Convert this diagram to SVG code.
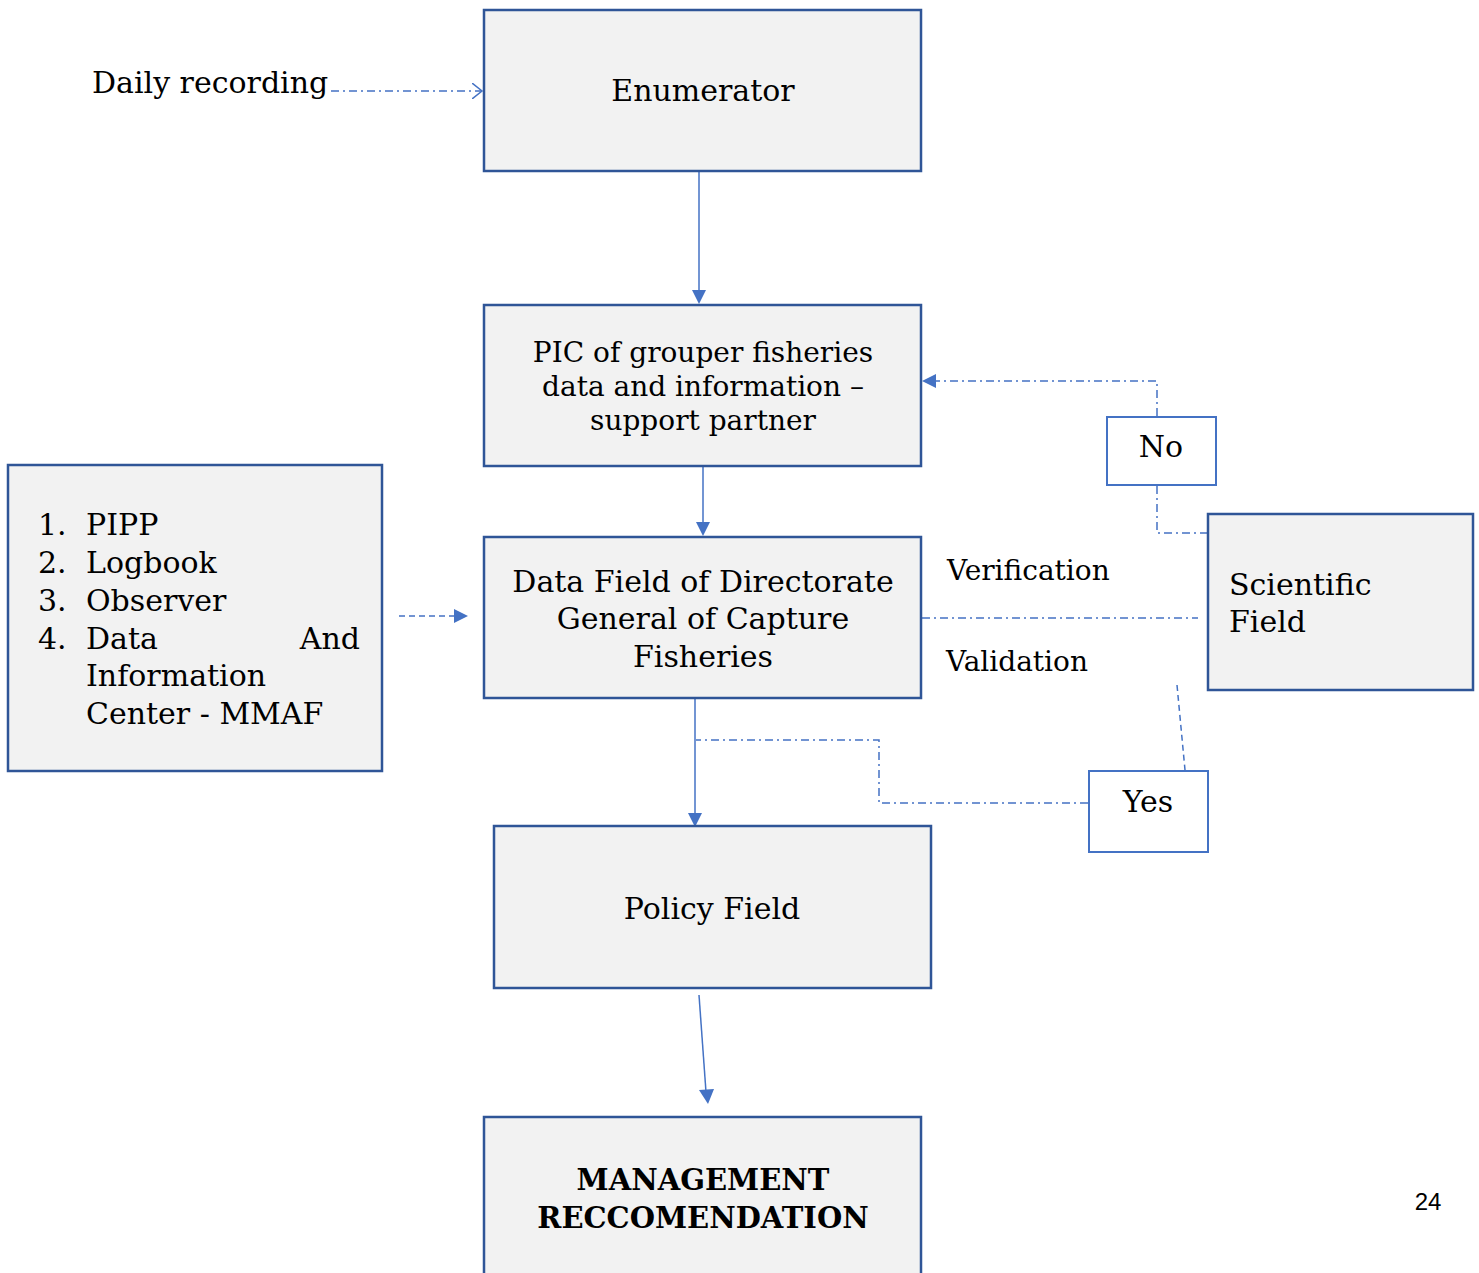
<svg xmlns="http://www.w3.org/2000/svg" width="1479" height="1273" viewBox="0 0 1479 1273">
<defs>
<style>
.box{fill:#f2f2f2;stroke:#2f5597;stroke-width:2.5}
.lbl{fill:#ffffff;stroke:#4472c4;stroke-width:2}
.t{font-family:"DejaVu Serif","Liberation Serif",serif;fill:#000;font-size:28px}
.c{text-anchor:middle}
.b{font-weight:bold}
.ln{stroke:#4472c4;stroke-width:1.5;fill:none}
.dd{stroke-dasharray:8,4,2,4}
.ds{stroke-dasharray:6,4}
</style>
<marker id="ah" viewBox="0 0 16 16" refX="10" refY="8" markerWidth="16" markerHeight="16" orient="auto" markerUnits="userSpaceOnUse">
<path d="M0,0 L10,8 L0,16" fill="none" stroke="#4472c4" stroke-width="1.5"/>
</marker>
</defs>
<rect width="1479" height="1273" fill="#fff"/>
<g id="connectors">
<line class="ln dd" x1="331" y1="91" x2="482" y2="91" marker-end="url(#ah)"/>
<line class="ln" x1="699" y1="172" x2="699" y2="292"/>
<line class="ln" x1="703" y1="467" x2="703" y2="524"/>
<line class="ln ds" x1="399" y1="616" x2="456" y2="616"/>
<polyline class="ln dd" points="1208,533 1157,533 1157,486"/>
<polyline class="ln dd" points="1157,416 1157,381 934,381"/>
<line class="ln dd" x1="922" y1="618" x2="1198" y2="618"/>
<line class="ln ds" x1="1177" y1="685" x2="1185" y2="770"/>
<polyline class="ln dd" points="1088,803 879,803 879,740 696,740"/>
<line class="ln" x1="695" y1="699" x2="695" y2="815"/>
<line class="ln" x1="699" y1="995" x2="706" y2="1092"/>
<path d="M692,290 L706,290 L699,304 z" fill="#4472c4"/>
<path d="M696,522 L710,522 L703,536 z" fill="#4472c4"/>
<path d="M454,609 L468,616 L454,623 z" fill="#4472c4"/>
<path d="M936,374 L922,381 L936,388 z" fill="#4472c4"/>
<path d="M688,813 L702,813 L695,827 z" fill="#4472c4"/>
<path d="M699,1090 L714,1089 L708,1104 z" fill="#4472c4"/>
</g>
<g id="daily">
<text class="t" x="92" y="93" style="font-size:30px">Daily recording</text>
</g>
<g id="enumerator">
<rect class="box" x="484" y="10" width="437" height="161"/>
<text class="t c" x="703" y="101" style="font-size:30px">Enumerator</text>
</g>
<g id="pic">
<rect class="box" x="484" y="305" width="437" height="161"/>
<text class="t c" x="703" y="362">PIC of grouper fisheries</text>
<text class="t c" x="703" y="396">data and information –</text>
<text class="t c" x="703" y="430">support partner</text>
</g>
<g id="sources">
<rect class="box" x="8" y="465" width="374" height="306"/>
<g class="t" style="font-size:30px">
<text x="38" y="535">1.</text><text x="86" y="535">PIPP</text>
<text x="38" y="573">2.</text><text x="86" y="573">Logbook</text>
<text x="38" y="611">3.</text><text x="86" y="611">Observer</text>
<text x="38" y="649">4.</text><text x="86" y="649">Data</text><text x="360" y="649" text-anchor="end">And</text>
<text x="86" y="686">Information</text>
<text x="86" y="724">Center - MMAF</text>
</g>
</g>
<g id="datafield">
<rect class="box" x="484" y="537" width="437" height="161"/>
<text class="t c" x="703" y="592" style="font-size:30px">Data Field of Directorate</text>
<text class="t c" x="703" y="629" style="font-size:30px">General of Capture</text>
<text class="t c" x="703" y="667" style="font-size:30px">Fisheries</text>
</g>
<g id="verification">
<text class="t" x="947" y="580">Verification</text>
<text class="t" x="946" y="671">Validation</text>
</g>
<g id="scientific">
<rect class="box" x="1208" y="514" width="265" height="176"/>
<text class="t" x="1229" y="595" style="font-size:30px">Scientific</text>
<text class="t" x="1229" y="632" style="font-size:30px">Field</text>
</g>
<g id="no">
<rect class="lbl" x="1107" y="417" width="109" height="68"/>
<text class="t c" x="1161" y="457" style="font-size:30px">No</text>
</g>
<g id="yes">
<rect class="lbl" x="1089" y="771" width="119" height="81"/>
<text class="t c" x="1148" y="812" style="font-size:30px">Yes</text>
</g>
<g id="policy">
<rect class="box" x="494" y="826" width="437" height="162"/>
<text class="t c" x="712" y="919" style="font-size:30px">Policy Field</text>
</g>
<g id="management">
<rect class="box" x="484" y="1117" width="437" height="170"/>
<text class="t c b" x="703" y="1190" style="font-size:29px">MANAGEMENT</text>
<text class="t c b" x="703" y="1228" style="font-size:29px">RECCOMENDATION</text>
</g>
<g id="page">
<text x="1428" y="1210" text-anchor="middle" style="font-family:'Liberation Sans','Open Sans',sans-serif;font-size:24px">24</text>
</g>
</svg>
